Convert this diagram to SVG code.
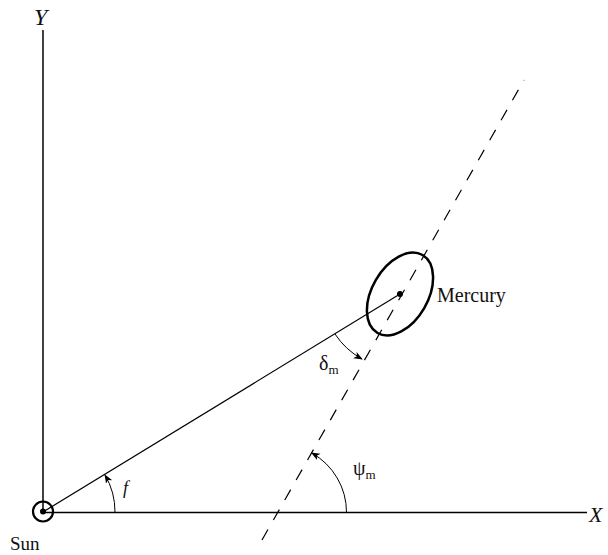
<svg xmlns="http://www.w3.org/2000/svg" width="608" height="555" viewBox="0 0 608 555">
<style>
.ax{stroke:#000;stroke-width:1.5;fill:none}
.ln{stroke:#000;stroke-width:1.2;fill:none}
.arc{stroke:#000;stroke-width:1;fill:none}
.t{font-family:"Liberation Serif","DejaVu Serif",serif;fill:#111}
</style>
<defs>
<marker id="ah" viewBox="0 0 10 10" refX="9" refY="5" markerWidth="9" markerHeight="9" markerUnits="userSpaceOnUse" orient="auto">
<path d="M0,1 L10,5 L0,9 L2.5,5 Z" fill="#000"/>
</marker>
</defs>
<g id="connectors">
<line class="ax" x1="43" y1="512.5" x2="587" y2="512.5"/>
<line class="ax" x1="43" y1="512.5" x2="43" y2="30"/>
<line class="ln" x1="43" y1="512" x2="400" y2="294"/>
<line class="ln" x1="262" y1="540" x2="524" y2="80" stroke-dasharray="12,11"/>
<path class="arc" d="M115,512.5 A72,72 0 0 0 105,475" marker-end="url(#ah)"/>
<path class="arc" d="M346.5,512.5 A68,68 0 0 0 311.7,453" marker-end="url(#ah)"/>
<path class="arc" d="M335,334 A76,76 0 0 0 362,359" marker-end="url(#ah)"/>
</g>
<g id="sun">
<circle cx="43" cy="511.5" r="10" fill="none" stroke="#000" stroke-width="2.2"/>
<circle cx="43" cy="511.5" r="3" fill="#000"/>
<text class="t" x="10" y="550" font-size="19">Sun</text>
</g>
<g id="mercury">
<ellipse cx="400" cy="294" rx="28" ry="45" transform="rotate(30 400 294)" fill="none" stroke="#000" stroke-width="2.5"/>
<circle cx="400" cy="294" r="3" fill="#000"/>
<text class="t" x="437" y="302" font-size="20">Mercury</text>
</g>
<g id="labels">
<text class="t" x="34" y="25" font-size="24" font-style="italic">Y</text>
<text class="t" x="589" y="522" font-size="22" font-style="italic">X</text>
<text class="t" x="123" y="494" font-size="18" font-style="italic">f</text>
<text class="t" x="319" y="370" font-size="20">δ<tspan font-size="13" dy="4">m</tspan></text>
<text class="t" x="353" y="475" font-size="20">ψ<tspan font-size="13" dy="4">m</tspan></text>
</g>
</svg>
